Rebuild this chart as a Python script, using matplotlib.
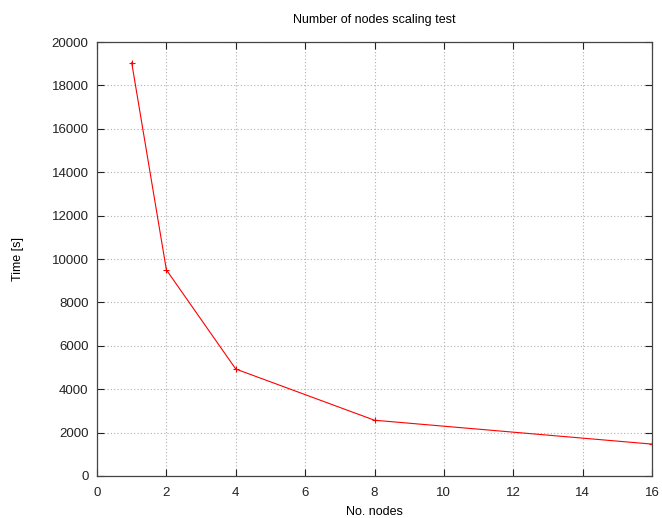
import numpy as np
import matplotlib
matplotlib.use('Agg')
import matplotlib.pyplot as plt

# data
nodes = [1, 2, 4, 8, 16]
times = [19050, 9500, 4930, 2570, 1470]
xticks = [0, 2, 4, 6, 8, 10, 12, 14, 16]
yticks = [0, 2000, 4000, 6000, 8000, 10000, 12000, 14000, 16000, 18000, 20000]

plt.rcParams['font.family'] = ['Liberation Sans', 'DejaVu Sans']
plt.rcParams['font.size'] = 9

fig = plt.figure(figsize=(6.62, 5.18), dpi=100)
ax = fig.add_axes([97/662, 42/518, (652-97)/662, (476-42)/518])

ax.plot(nodes, times, color='#ff0000', lw=0.8, marker='+', ms=5, mew=0.8)

ax.set_xlim(0, 16)
ax.set_ylim(0, 20000)
ax.set_xticks(xticks)
ax.set_yticks(yticks)
ax.tick_params(direction='in', length=5, width=0.8, top=True, right=True,
               labelsize=9.5, pad=8, colors='#222222')
ax.tick_params(axis='y', pad=6)
ax.grid(True, color='#b0b0b0', linestyle=(0, (1, 2)), lw=0.8)
for s in ax.spines.values():
    s.set_color('#444444')
    s.set_linewidth(0.9)

ax.set_title('Number of nodes scaling test', fontsize=9, pad=14)
ax.set_xlabel('No. nodes', fontsize=9, labelpad=5)
ax.set_ylabel('Time [s]', fontsize=9, labelpad=20)

fig.savefig('out.png', dpi=100)
